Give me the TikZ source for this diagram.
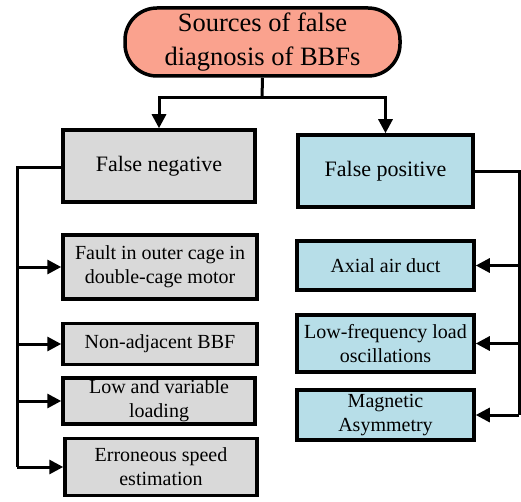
\documentclass[tikz,border=0pt]{standalone}
\usepackage{fontspec}
\setmainfont{Liberation Serif}
\usetikzlibrary{arrows.meta}
\definecolor{topfill}{RGB}{250,162,142}
\definecolor{grayfill}{RGB}{217,217,217}
\definecolor{bluefill}{RGB}{183,222,232}
\tikzset{
  box/.style={draw=black,line width=3.5pt,align=center,inner sep=0pt,font=\fontsize{20}{24}\selectfont},
  gbox/.style={box,fill=grayfill},
  bbox/.style={box,fill=bluefill},
  conn/.style={line width=3pt,-{Triangle[length=14pt,width=14pt]}},
  plain/.style={line width=3pt}
}
\begin{document}
\begin{tikzpicture}[x=1pt,y=-1pt]
\useasboundingbox (0,0) rectangle (521,502);
\node[box,fill=topfill,rounded corners=32pt,minimum width=275pt,minimum height=68pt,font=\fontsize{26.5}{34}\selectfont] (top) at (262.5,42) {Sources of false\\diagnosis of BBFs};
\node[gbox,minimum width=192pt,minimum height=72pt,font=\fontsize{22}{26}\selectfont] (fn) at (159,166) {False negative};
\node[bbox,minimum width=175pt,minimum height=72pt,font=\fontsize{22}{26}\selectfont] (fp) at (385.5,171) {False positive};
\node[gbox,minimum width=194pt,minimum height=64pt] (l1) at (160,267) {Fault in outer cage in\\double-cage motor};
\node[gbox,minimum width=194pt,minimum height=41pt] (l2) at (160,344) {Non-adjacent BBF};
\node[gbox,minimum width=192pt,minimum height=46pt] (l3) at (159,401) {Low and variable\\loading};
\node[gbox,minimum width=192pt,minimum height=57pt] (l4) at (161,467) {Erroneous speed\\estimation};
\node[bbox,minimum width=177pt,minimum height=49pt] (r1) at (385.5,265.5) {Axial air duct};
\node[bbox,minimum width=177pt,minimum height=57pt] (r2) at (385.5,343.5) {Low-frequency load\\oscillations};
\node[bbox,minimum width=177pt,minimum height=50pt] (r3) at (385.5,415) {Magnetic\\Asymmetry};
\coordinate (j) at (262,98);
\draw[plain] (top.south) -- (j);
\draw[conn] (j) -| (fn.north);
\draw[conn] (j) -| (fp.north);
\coordinate (lb) at (17,168);
\coordinate (rb) at (519,172);
\draw[plain] (fn.west |- lb) -- (lb) -- (lb |- l4.west);
\foreach \n in {l1,l2,l3,l4} \draw[conn] (lb |- \n.west) -- (\n.west);
\draw[plain] (fp.east |- rb) -- (rb) -- (rb |- r3.east);
\foreach \n in {r1,r2,r3} \draw[conn] (rb |- \n.east) -- (\n.east);
\end{tikzpicture}
\end{document}
